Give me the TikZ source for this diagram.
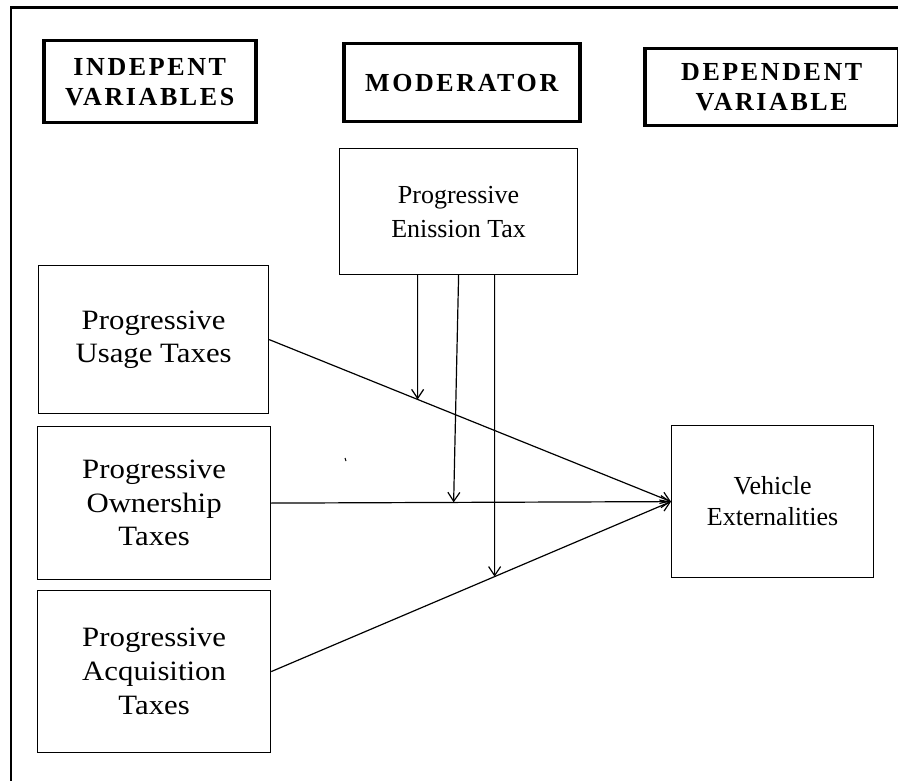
\documentclass[tikz,border=0pt]{standalone}
\usepackage{fontspec}
\setmainfont{Liberation Serif}
\newfontfamily\hdfont[LetterSpace=10]{Liberation Serif}
\newfontfamily\widefont[FakeStretch=1.1]{Liberation Serif}
\usetikzlibrary{arrows.meta,calc}
\begin{document}
\begin{tikzpicture}[x=1pt,y=-1pt,
  hdr/.style={draw, line width=3.5pt, inner sep=0pt, anchor=north west, align=center,
    font=\hdfont\bfseries\fontsize{26}{30}\selectfont},
  box/.style={draw, line width=1.2pt, inner sep=0pt, anchor=north west, align=center},
  conn/.style={line width=1.2pt, -{Straight Barb[length=9pt,width=12pt]}}]
\useasboundingbox (0,0) rectangle (898,781);
% outer frame (top and left edges)
\draw[line width=2.2pt] (898,7.5) -- (11,7.5) -- (11,781);
% headers
\node[hdr, minimum width=212pt, minimum height=82pt] (h1) at (42,39) {INDEPENT\\VARIABLES};
\node[hdr, minimum width=236pt, minimum height=78pt] (h2) at (342,42) {MODERATOR};
\node[hdr, minimum width=254pt, minimum height=77pt] (h3) at (643,47) {DEPENDENT\\VARIABLE};
% boxes
\node[box, minimum width=238pt, minimum height=126pt, font=\fontsize{26}{34}\selectfont] (mod) at (339,148) {Progressive\\Enission Tax};
\node[box, minimum width=230pt, minimum height=148pt, font=\widefont\fontsize{28}{33}\selectfont] (u) at (38,265) {Progressive\\Usage Taxes};
\node[box, minimum width=233pt, minimum height=153pt, font=\widefont\fontsize{28}{33.5}\selectfont] (o) at (37,426) {Progressive\\Ownership\\Taxes};
\node[box, minimum width=233pt, minimum height=162pt, font=\widefont\fontsize{28}{34}\selectfont] (a) at (37,590) {Progressive\\Acquisition\\Taxes};
\node[box, minimum width=202pt, minimum height=152pt, font=\fontsize{26}{31}\selectfont] (v) at (671,425) {Vehicle\\Externalities};
% main connectors
\draw[conn] (u.east) -- (v.west);
\draw[conn] (o.east) -- (v.west);
\draw[conn] (a.east) -- (v.west);
% moderator connectors
\coordinate (s1) at ($(mod.south)+(-41,0)$);
\coordinate (s1b) at ($(s1)+(0,100)$);
\coordinate (s2b) at ($(mod.south)+(-5,229)$);
\coordinate (s3) at ($(mod.south)+(36,0)$);
\coordinate (s3b) at ($(s3)+(0,100)$);
\coordinate (t1) at (intersection of u.east--v.west and s1--s1b);
\coordinate (t2) at (intersection of o.east--v.west and mod.south--s2b);
\coordinate (t3) at (intersection of a.east--v.west and s3--s3b);
\draw[conn] (s1) -- (t1);
\draw[conn] (mod.south) -- (t2);
\draw[conn] (s3) -- (t3);
% stray tick
\draw[line width=1pt] (345,458) -- (346,461);
\end{tikzpicture}
\end{document}
